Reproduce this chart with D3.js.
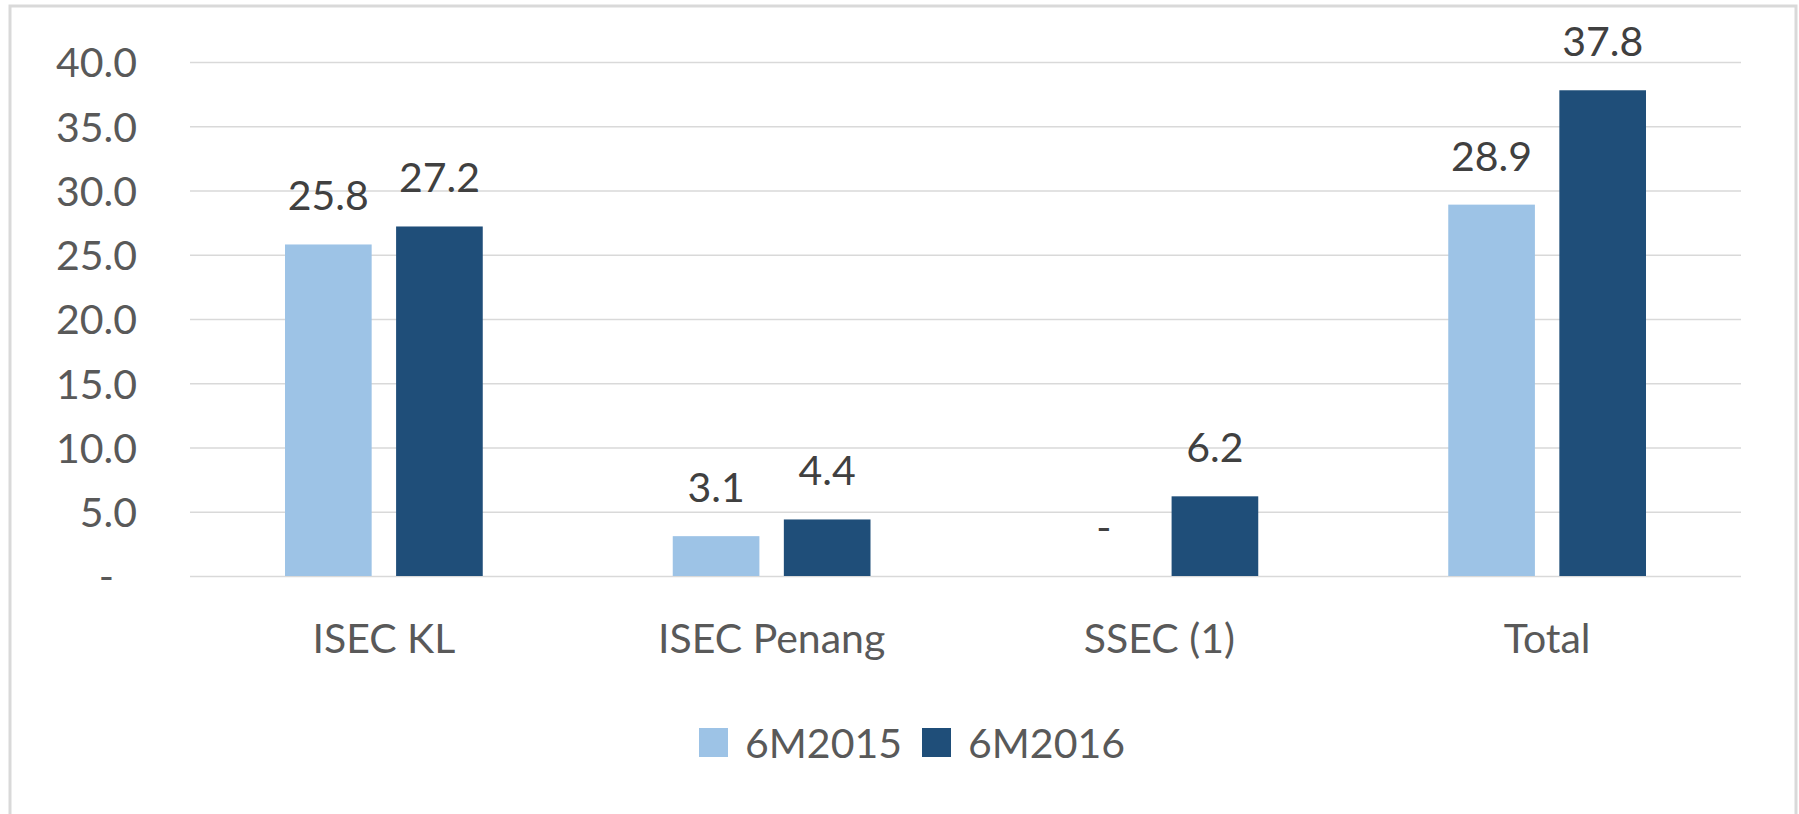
<!DOCTYPE html>
<html>
<head>
<meta charset="utf-8">
<script src="https://cdn.jsdelivr.net/npm/d3@7"></script>
<style>
  body { margin: 0; background: #fff; }
  text { font-family: Lato, "Open Sans", sans-serif; }
</style>
</head>
<body>
<div class="chart"></div>
<script>
// data
var categories = ["ISEC KL", "ISEC Penang", "SSEC (1)", "Total"];
var seriesNames = ["6M2015", "6M2016"];
var values2015 = [25.8, 3.1, 0, 28.9];
var values2016 = [27.2, 4.4, 6.2, 37.8];
var yTicks = [0, 5, 10, 15, 20, 25, 30, 35, 40];
var yTickLabels = ["-", "5.0", "10.0", "15.0", "20.0", "25.0", "30.0", "35.0", "40.0"];

var colors = ["#9dc3e6", "#1f4e79"];

var W = 1799, H = 814;
var margin = {top: 62, left: 190, right: 58, bottom: 238};
var width = W - margin.left - margin.right,
    height = H - margin.top - margin.bottom;

var svg = d3.select(".chart").append("svg")
    .attr("width", W)
    .attr("height", H);

// outer chart border
svg.append("rect")
    .attr("x", 10).attr("y", 6)
    .attr("width", 1786).attr("height", 830)
    .attr("fill", "none")
    .attr("stroke", "#d9d9d9")
    .attr("stroke-width", 3);

var g = svg.append("g")
    .attr("transform", "translate(" + margin.left + "," + margin.top + ")");

var x0 = d3.scaleBand()
    .domain(categories)
    .range([0, width])
    .paddingInner(0.49)
    .paddingOuter(0.245);

var x1 = d3.scaleBand()
    .domain(seriesNames)
    .range([0, x0.bandwidth()])
    .paddingInner(0.22);

var y = d3.scaleLinear()
    .domain([0, 40])
    .range([height, 0]);

// y axis + gridlines
var yAxis = g.append("g")
    .call(d3.axisLeft(y)
      .tickValues(yTicks)
      .tickSize(-width)
      .tickPadding(53)
      .tickFormat(function(d, i) { return yTickLabels[i]; }));
yAxis.select(".domain").remove();
yAxis.selectAll(".tick line")
    .attr("stroke", "#d9d9d9")
    .attr("stroke-width", 1.5);
yAxis.selectAll(".tick text")
    .attr("fill", "#595959")
    .attr("font-size", "41px")
    .attr("dy", "0.36em")
    .attr("x", function(d) { return d === 0 ? -76 : -53; });

// category axis
var xAxis = g.append("g")
    .attr("transform", "translate(0," + height + ")")
    .call(d3.axisBottom(x0).tickSize(0).tickPadding(48));
xAxis.select(".domain").remove();
xAxis.selectAll(".tick text")
    .attr("fill", "#595959")
    .attr("font-size", "41px");

var rows = categories.map(function(c, i) {
  return {cat: c, vals: [
    {name: seriesNames[0], value: values2015[i]},
    {name: seriesNames[1], value: values2016[i]}
  ]};
});

var groups = g.selectAll(".grp")
    .data(rows)
  .enter().append("g")
    .attr("class", "grp")
    .attr("transform", function(d) { return "translate(" + x0(d.cat) + ",0)"; });

groups.selectAll("rect")
    .data(function(d) { return d.vals; })
  .enter().append("rect")
    .attr("x", function(d) { return x1(d.name); })
    .attr("width", x1.bandwidth())
    .attr("y", function(d) { return y(d.value); })
    .attr("height", function(d) { return height - y(d.value); })
    .style("fill", function(d, i) { return colors[i]; });

groups.selectAll(".lbl")
    .data(function(d) { return d.vals; })
  .enter().append("text")
    .attr("class", "lbl")
    .attr("x", function(d) { return x1(d.name) + x1.bandwidth() / 2; })
    .attr("y", function(d) { return y(d.value) - 34; })
    .attr("text-anchor", "middle")
    .attr("fill", "#404040")
    .attr("font-size", "41px")
    .text(function(d) { return d.value === 0 ? "-" : d.value.toFixed(1); });

// legend
var legend = svg.append("g");
var legendX = [699, 922];
seriesNames.forEach(function(s, i) {
  legend.append("rect")
      .attr("x", legendX[i]).attr("y", 728)
      .attr("width", 29).attr("height", 29)
      .style("fill", colors[i]);
  legend.append("text")
      .attr("x", legendX[i] + 46).attr("y", 758)
      .attr("fill", "#595959")
      .attr("font-size", "41px")
      .text(s);
});
</script>
</body>
</html>
